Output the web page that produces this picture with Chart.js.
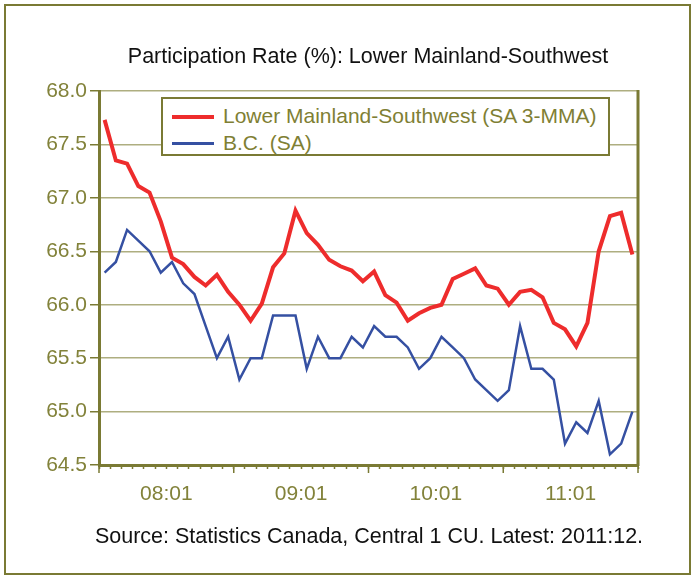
<!DOCTYPE html>
<html>
<head>
<meta charset="utf-8">
<script src="https://cdn.jsdelivr.net/npm/chart.js@4.4.1/dist/chart.umd.min.js"></script>
<style>
  body { margin: 0; background: #fff; font-family: "Liberation Sans", Arial, sans-serif; }
  #wrap { position: relative; width: 694px; height: 578px; }
  #frame { position: absolute; left: 4px; top: 4px; width: 687px; height: 571px; border: 2px solid #7a7a34; box-sizing: border-box; pointer-events: none; }
  #title { position: absolute; left: 0; width: 736px; top: 44px; text-align: center; font-size: 21.5px; color: #111; }
  #source { position: absolute; left: 0; width: 738px; top: 524px; text-align: center; font-size: 21.5px; color: #111; }
  #legend { position: absolute; left: 161px; top: 97px; width: 449px; height: 59px; border: 2px solid #7a7a34; box-sizing: border-box; background: #fff; }
  .row { position: absolute; left: 9px; height: 25px; font-size: 21px; color: #7f7f34; white-space: nowrap; }
  .row span.line { position: absolute; left: 0; width: 42px; top: 11px; }
  .row span.txt { position: absolute; left: 51px; top: 0; }
  canvas { position: absolute; left: 0; top: 0; }
</style>
</head>
<body>
<div id="wrap">
  <canvas id="lineChart" width="694" height="578"></canvas>
  <div id="title">Participation Rate (%): Lower Mainland-Southwest</div>
  <div id="legend">
    <div class="row" style="top:5px"><span class="line" style="height:4px;background:#ee2c2c"></span><span class="txt">Lower Mainland-Southwest (SA 3-MMA)</span></div>
    <div class="row" style="top:32px"><span class="line" style="height:3px;background:#3550a2"></span><span class="txt">B.C. (SA)</span></div>
  </div>
  <div id="source">Source: Statistics Canada, Central 1 CU. Latest: 2011:12.</div>
  <div id="frame"></div>
</div>
<script>
const months = [
    "08:01", "08:02", "08:03", "08:04", "08:05", "08:06", "08:07", "08:08", "08:09", "08:10", "08:11", "08:12",
    "09:01", "09:02", "09:03", "09:04", "09:05", "09:06", "09:07", "09:08", "09:09", "09:10", "09:11", "09:12",
    "10:01", "10:02", "10:03", "10:04", "10:05", "10:06", "10:07", "10:08", "10:09", "10:10", "10:11", "10:12",
    "11:01", "11:02", "11:03", "11:04", "11:05", "11:06", "11:07", "11:08", "11:09", "11:10", "11:11", "11:12"
];

// Lower Mainland-Southwest, SA 3-month moving average
const lowerMainland = [
    67.73, 67.35, 67.32, 67.11, 67.05, 66.78, 66.44, 66.38, 66.26, 66.18, 66.28, 66.12,
    66.00, 65.85, 66.01, 66.35, 66.48, 66.88, 66.67, 66.56, 66.42, 66.36, 66.32, 66.22,
    66.31, 66.09, 66.02, 65.85, 65.92, 65.97, 66.00, 66.24, 66.29, 66.34, 66.18, 66.15,
    66.00, 66.12, 66.14, 66.07, 65.83, 65.77, 65.61, 65.83, 66.50, 66.83, 66.86, 66.47
];

// B.C., SA
const bc = [
    66.3, 66.4, 66.7, 66.6, 66.5, 66.3, 66.4, 66.2, 66.1, 65.8, 65.5, 65.7,
    65.3, 65.5, 65.5, 65.9, 65.9, 65.9, 65.4, 65.7, 65.5, 65.5, 65.7, 65.6,
    65.8, 65.7, 65.7, 65.6, 65.4, 65.5, 65.7, 65.6, 65.5, 65.3, 65.2, 65.1,
    65.2, 65.8, 65.4, 65.4, 65.3, 64.7, 64.9, 64.8, 65.1, 64.6, 64.7, 65.0
];

const yMin = 64.5;
const yMax = 68.0;
const yStep = 0.5;

const olive = "#7a7a34";
const labelColor = "#82823a";
const gridColor = "#aeae80";
const tickFont = { family: "'Liberation Sans', Arial, sans-serif", size: 21 };

// right edge of the plot + the longer year ticks under the x axis
const plotFrame = {
    id: "plotFrame",
    afterDraw(chart) {
        const { ctx, chartArea, scales } = chart;
        const half = (scales.x.getPixelForValue(1) - scales.x.getPixelForValue(0)) / 2;
        ctx.save();
        ctx.strokeStyle = olive;
        ctx.lineWidth = 3;
        ctx.beginPath();
        ctx.moveTo(chartArea.right, chartArea.top - 1);
        ctx.lineTo(chartArea.right, chartArea.bottom + 1);
        ctx.stroke();

        ctx.lineWidth = 1.5;
        for (let i = 0; i <= months.length; i += 12) {
            const x = scales.x.getPixelForValue(Math.min(i, months.length - 1)) + (i < months.length ? -half : half);
            ctx.beginPath();
            ctx.moveTo(x, chartArea.bottom);
            ctx.lineTo(x, chartArea.bottom + 8);
            ctx.stroke();
        }
        ctx.restore();
    }
};

document.addEventListener("DOMContentLoaded", function () {
    const ctx = document.getElementById("lineChart").getContext("2d");
    new Chart(ctx, {
        type: "line",
        data: {
            labels: months,
            datasets: [
                {
                    label: "Lower Mainland-Southwest (SA 3-MMA)",
                    data: lowerMainland,
                    borderColor: "#ee2c2c",
                    borderWidth: 4,
                    pointRadius: 0,
                    tension: 0
                },
                {
                    label: "B.C. (SA)",
                    data: bc,
                    borderColor: "#3550a2",
                    borderWidth: 2.5,
                    pointRadius: 0,
                    tension: 0
                }
            ]
        },
        options: {
            responsive: false,
            animation: false,
            devicePixelRatio: 1,
            layout: { padding: { top: 91, right: 56, left: 0, bottom: 0 } },
            plugins: {
                legend: { display: false },
                title: { display: false },
                tooltip: { enabled: false }
            },
            scales: {
                x: {
                    offset: true,
                    afterFit: (scale) => { scale.height = 113; },
                    grid: {
                        offset: true,
                        drawOnChartArea: false,
                        tickLength: 4,
                        tickWidth: 1.5,
                        tickColor: olive
                    },
                    border: { color: olive, width: 3 },
                    ticks: {
                        autoSkip: false,
                        maxRotation: 0,
                        padding: 13,
                        labelOffset: 5.6,
                        color: labelColor,
                        font: tickFont,
                        callback: (value, index) => (index % 12 === 5 ? months[index - 5] : "")
                    }
                },
                y: {
                    min: yMin,
                    max: yMax,
                    afterFit: (scale) => { scale.width = 99; },
                    grid: {
                        color: gridColor,
                        lineWidth: 1.5,
                        tickLength: 9,
                        tickColor: olive
                    },
                    border: { color: olive, width: 3 },
                    ticks: {
                        stepSize: yStep,
                        padding: 3,
                        color: labelColor,
                        font: tickFont,
                        callback: (value) => value.toFixed(1)
                    }
                }
            }
        },
        plugins: [plotFrame]
    });
});
</script>
</body>
</html>
